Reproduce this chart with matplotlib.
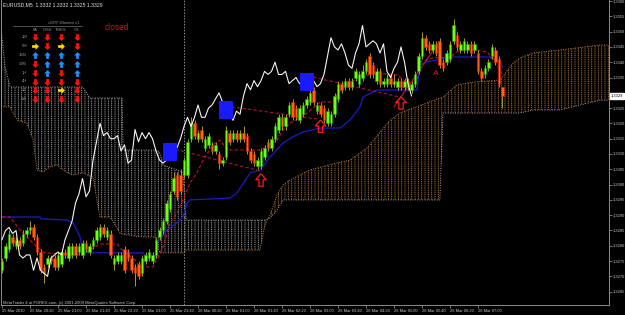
import numpy as np
import matplotlib
matplotlib.use("Agg")
import matplotlib.pyplot as plt
from matplotlib.path import Path
from matplotlib.lines import Line2D

# EURUSD M5, bars from 25 Mar 2010 19:40 to 26 Mar 07:35
opens = [1.3272, 1.3276, 1.3279, 1.3283, 1.3280, 1.3282, 1.3281, 1.3284, 1.3285, 1.3286, 1.3283, 1.3278,
         1.3273, 1.3274, 1.3276, 1.3276, 1.3273, 1.3274, 1.3278, 1.3276, 1.3277, 1.3280, 1.3278, 1.3277,
         1.3281, 1.3278, 1.3280, 1.3282, 1.3283, 1.3286, 1.3283, 1.3284, 1.3274, 1.3275, 1.3275, 1.3279,
         1.3278, 1.3276, 1.3273, 1.3274, 1.3271, 1.3275, 1.3276, 1.3275, 1.3277, 1.3283, 1.3285, 1.3288,
         1.3292, 1.3298, 1.3303, 1.3303, 1.3303, 1.3303, 1.3315, 1.3320, 1.3315, 1.3318, 1.3312, 1.3313,
         1.3313, 1.3311, 1.3310, 1.3307, 1.3309, 1.3317, 1.3315, 1.3317, 1.3315, 1.3317, 1.3316, 1.3311,
         1.3310, 1.3306, 1.3306, 1.3309, 1.3314, 1.3312, 1.3315, 1.3318, 1.3322, 1.3319, 1.3323, 1.3327,
         1.3325, 1.3321, 1.3323, 1.3326, 1.3327, 1.3331, 1.3324, 1.3326, 1.3325, 1.3320, 1.3320, 1.3323,
         1.3328, 1.3333, 1.3332, 1.3334, 1.3332, 1.3335, 1.3333, 1.3335, 1.3337, 1.3342, 1.3339, 1.3334,
         1.3337, 1.3333, 1.3333, 1.3335, 1.3333, 1.3332, 1.3334, 1.3332, 1.3334, 1.3331, 1.3333, 1.3337,
         1.3342, 1.3348, 1.3346, 1.3344, 1.3346, 1.3347, 1.3340, 1.3340, 1.3341, 1.3347, 1.3349, 1.3344,
         1.3344, 1.3344, 1.3346, 1.3344, 1.3343, 1.3337, 1.3336, 1.3338, 1.3342, 1.3344, 1.3341, 1.3332]
highs = [1.3276, 1.3281, 1.3285, 1.3284, 1.3283, 1.3283, 1.3285, 1.3286, 1.3288, 1.3287, 1.3284, 1.3279,
         1.3274, 1.3277, 1.3277, 1.3277, 1.3278, 1.3279, 1.3279, 1.3281, 1.3281, 1.3281, 1.3281, 1.3282,
         1.3282, 1.3281, 1.3283, 1.3286, 1.3287, 1.3287, 1.3286, 1.3285, 1.3277, 1.3278, 1.3278, 1.3280,
         1.3279, 1.3277, 1.3274, 1.3275, 1.3277, 1.3278, 1.3279, 1.3278, 1.3283, 1.3286, 1.3289, 1.3295,
         1.3298, 1.3304, 1.3304, 1.3305, 1.3309, 1.3315, 1.3322, 1.3321, 1.3318, 1.3319, 1.3316, 1.3317,
         1.3314, 1.3314, 1.3311, 1.3309, 1.3319, 1.3318, 1.3318, 1.3318, 1.3318, 1.3319, 1.3317, 1.3312,
         1.3311, 1.3309, 1.3312, 1.3313, 1.3315, 1.3316, 1.3320, 1.3323, 1.3323, 1.3323, 1.3327, 1.3328,
         1.3326, 1.3326, 1.3327, 1.3329, 1.3331, 1.3332, 1.3327, 1.3327, 1.3326, 1.3325, 1.3324, 1.3330,
         1.3334, 1.3334, 1.3335, 1.3335, 1.3335, 1.3338, 1.3337, 1.3339, 1.3341, 1.3343, 1.3340, 1.3338,
         1.3338, 1.3335, 1.3336, 1.3336, 1.3336, 1.3335, 1.3335, 1.3335, 1.3335, 1.3334, 1.3337, 1.3343,
         1.3350, 1.3349, 1.3347, 1.3347, 1.3347, 1.3348, 1.3341, 1.3344, 1.3347, 1.3354, 1.3350, 1.3347,
         1.3348, 1.3347, 1.3347, 1.3347, 1.3344, 1.3338, 1.3339, 1.3341, 1.3346, 1.3345, 1.3342, 1.3332]
lows = [1.3271, 1.3275, 1.3278, 1.3280, 1.3279, 1.3279, 1.3280, 1.3283, 1.3284, 1.3282, 1.3277, 1.3271,
        1.3268, 1.3273, 1.3274, 1.3272, 1.3272, 1.3273, 1.3276, 1.3275, 1.3276, 1.3276, 1.3277, 1.3276,
        1.3278, 1.3277, 1.3279, 1.3281, 1.3282, 1.3283, 1.3282, 1.3276, 1.3272, 1.3274, 1.3274, 1.3271,
        1.3275, 1.3271, 1.3267, 1.3269, 1.3270, 1.3274, 1.3275, 1.3274, 1.3276, 1.3282, 1.3284, 1.3287,
        1.3291, 1.3297, 1.3295, 1.3297, 1.3302, 1.3302, 1.3314, 1.3315, 1.3314, 1.3314, 1.3311, 1.3312,
        1.3310, 1.3310, 1.3305, 1.3306, 1.3308, 1.3313, 1.3314, 1.3314, 1.3314, 1.3314, 1.3310, 1.3307,
        1.3306, 1.3305, 1.3305, 1.3308, 1.3311, 1.3311, 1.3314, 1.3317, 1.3318, 1.3318, 1.3322, 1.3321,
        1.3321, 1.3320, 1.3322, 1.3325, 1.3326, 1.3326, 1.3323, 1.3322, 1.3320, 1.3319, 1.3319, 1.3322,
        1.3327, 1.3330, 1.3331, 1.3331, 1.3331, 1.3334, 1.3332, 1.3334, 1.3336, 1.3335, 1.3335, 1.3333,
        1.3332, 1.3332, 1.3332, 1.3332, 1.3332, 1.3331, 1.3331, 1.3331, 1.3331, 1.3330, 1.3332, 1.3336,
        1.3341, 1.3344, 1.3343, 1.3343, 1.3342, 1.3338, 1.3337, 1.3339, 1.3340, 1.3346, 1.3344, 1.3343,
        1.3343, 1.3343, 1.3342, 1.3343, 1.3336, 1.3334, 1.3335, 1.3337, 1.3341, 1.3339, 1.3332, 1.3325]
closes = [1.3275, 1.3280, 1.3284, 1.3281, 1.3282, 1.3280, 1.3284, 1.3285, 1.3286, 1.3283, 1.3278, 1.3272,
          1.3271, 1.3276, 1.3275, 1.3273, 1.3277, 1.3278, 1.3277, 1.3280, 1.3280, 1.3277, 1.3280, 1.3281,
          1.3279, 1.3280, 1.3282, 1.3285, 1.3286, 1.3284, 1.3285, 1.3277, 1.3276, 1.3277, 1.3277, 1.3272,
          1.3276, 1.3272, 1.3271, 1.3270, 1.3276, 1.3277, 1.3278, 1.3277, 1.3282, 1.3285, 1.3288, 1.3294,
          1.3297, 1.3302, 1.3296, 1.3298, 1.3308, 1.3314, 1.3320, 1.3316, 1.3317, 1.3315, 1.3315, 1.3316,
          1.3311, 1.3313, 1.3307, 1.3308, 1.3318, 1.3314, 1.3317, 1.3315, 1.3317, 1.3315, 1.3311, 1.3308,
          1.3307, 1.3308, 1.3311, 1.3312, 1.3312, 1.3315, 1.3319, 1.3322, 1.3319, 1.3322, 1.3326, 1.3322,
          1.3322, 1.3325, 1.3326, 1.3328, 1.3330, 1.3327, 1.3326, 1.3323, 1.3321, 1.3324, 1.3323, 1.3329,
          1.3333, 1.3331, 1.3334, 1.3332, 1.3334, 1.3337, 1.3336, 1.3337, 1.3340, 1.3336, 1.3336, 1.3337,
          1.3333, 1.3334, 1.3335, 1.3333, 1.3334, 1.3334, 1.3332, 1.3334, 1.3332, 1.3333, 1.3336, 1.3342,
          1.3348, 1.3345, 1.3344, 1.3346, 1.3343, 1.3339, 1.3338, 1.3343, 1.3346, 1.3352, 1.3345, 1.3346,
          1.3347, 1.3346, 1.3343, 1.3346, 1.3337, 1.3335, 1.3338, 1.3340, 1.3345, 1.3340, 1.3333, 1.3329]

# ichimoku lines (bar index, price)
tenkan_idx = [0, 2.3, 5.1, 10, 12.3, 22.3, 25.1, 28, 32.9, 34.3, 38, 39.4, 43.1, 44.6, 46, 48, 50,
              51.7, 53.7, 55.7, 57.4, 60.3, 62.3, 64.3, 73.7, 75.7, 78.6, 80.3, 82.3, 85.1, 87.1, 88.9,
              90.9, 94.6, 95.7, 97.4, 102.3, 107.1, 112.9, 115.7, 117.1, 118.6, 119.4, 123.1, 128, 130,
              132.9, 135.7, 138.6, 141.4, 143.1]
tenkan = [1.32894, 1.32894, 1.32852, 1.32796, 1.32777, 1.32770, 1.32786, 1.32806, 1.32806, 1.32786,
          1.32754, 1.32731, 1.32731, 1.32763, 1.32796, 1.32875, 1.32907, 1.32950, 1.33005, 1.33038,
          1.33080, 1.33129, 1.33146, 1.33113, 1.33113, 1.33123, 1.33146, 1.33178, 1.33201, 1.33218,
          1.33234, 1.33250, 1.33270, 1.33270, 1.33293, 1.33319, 1.33352, 1.33365, 1.33358, 1.33335,
          1.33316, 1.33342, 1.33401, 1.33414, 1.33417, 1.33434, 1.33446, 1.33440, 1.33434, 1.33391,
          1.33358]
kijun_idx = [0, 10.9, 11.1, 18.6, 20.3, 22.3, 23.1, 40.3, 41.4, 43.7, 44.3, 47.1, 50, 51.7, 52.9,
             53.7, 65.1, 67.1, 70.9, 73.7, 76.6, 80.3, 83.1, 86, 90.9, 96.6, 99.4, 102.3, 103.1,
             107.1, 118.6, 119.4, 121.4, 128, 139.4, 142.3, 143.1]
kijun = [1.32894, 1.32894, 1.32888, 1.32884, 1.32875, 1.32829, 1.32777, 1.32777, 1.32763, 1.32763,
         1.32809, 1.32852, 1.32875, 1.32894, 1.32940, 1.32950, 1.32956, 1.32972, 1.33038, 1.33048,
         1.33090, 1.33136, 1.33156, 1.33172, 1.33185, 1.33185, 1.33211, 1.33254, 1.33286, 1.33309,
         1.33309, 1.33391, 1.33401, 1.33417, 1.33417, 1.33401, 1.33384]
span_idx = [-0.3, 0.9, 2.3, 4.3, 7.1, 8.9, 10, 11.7, 13.7, 15.7, 17.4, 20, 23.1, 25.1, 26, 27.1, 28,
            30.9, 33.7, 34.3, 34.6, 39.4, 43.7, 44.3, 45.1, 46, 51.7, 52.6, 73.7, 75.1, 76.6, 78.6,
            80.3, 82.3, 88, 95.7, 99.4, 104.3, 110.9, 113.7, 125.1, 126, 130, 134.6, 142.3, 146,
            148, 151.7, 159.4, 170.9, 173.5]
span_a = [1.33254, 1.33254, 1.33254, 1.33211, 1.33201, 1.33146, 1.33048, 1.33041, 1.33058, 1.33064,
          1.33048, 1.33031, 1.33038, 1.33028, 1.33025, 1.32950, 1.32894, 1.32894, 1.32842, 1.32838,
          1.32838, 1.32829, 1.32829, 1.32803, 1.32777, 1.32777, 1.32777, 1.32786, 1.32786, 1.32868,
          1.32901, 1.32966, 1.32999, 1.33015, 1.33048, 1.33071, 1.33080, 1.33120, 1.33211, 1.33234,
          1.33283, 1.33286, 1.33326, 1.33335, 1.33342, 1.33397, 1.33414, 1.33430, 1.33440, 1.33456,
          1.33456]
span_b = [1.33512, 1.33384, 1.33319, 1.33319, 1.33319, 1.33319, 1.33319, 1.33319, 1.33319, 1.33319,
          1.33319, 1.33319, 1.33319, 1.33283, 1.33283, 1.33283, 1.33283, 1.33283, 1.33283, 1.33283,
          1.33113, 1.33113, 1.33113, 1.33113, 1.33103, 1.33064, 1.33041, 1.32884, 1.32884, 1.32884,
          1.32891, 1.32917, 1.32950, 1.32950, 1.32950, 1.32950, 1.32950, 1.32950, 1.32950, 1.32950,
          1.32950, 1.33234, 1.33234, 1.33234, 1.33234, 1.33234, 1.33234, 1.33244, 1.33244, 1.33276,
          1.33276]

# signals
square_idx = [48, 64, 87]
square_px = [1.33108, 1.33245, 1.33336]
arrow_idx = [74, 91, 114]
arrow_px = [1.33015, 1.33191, 1.33267]
trend_from = [(48, 1.33120), (64, 1.33257), (87.4, 1.33355)]
trend_to = [(74.3, 1.33043), (90.3, 1.33214), (113.7, 1.33286)]
closed_line = [(112, 1.33254), (124.5, 1.33460)]

time_ticks = [0, 8, 16, 24, 32, 40, 48, 56, 64, 72, 80, 88, 96, 104, 112, 120, 128, 136]
time_labels = ['25 Mar 2010', '25 Mar 20:20', '25 Mar 21:00', '25 Mar 21:40', '25 Mar 22:20',
               '25 Mar 23:00', '25 Mar 23:40', '26 Mar 00:20', '26 Mar 01:00', '26 Mar 01:40',
               '26 Mar 02:20', '26 Mar 03:00', '26 Mar 03:40', '26 Mar 04:20', '26 Mar 05:00',
               '26 Mar 05:40', '26 Mar 06:20', '26 Mar 07:00']
price_ticks = [1.3265, 1.3270, 1.3275, 1.3280, 1.3285, 1.3290, 1.3295, 1.3300, 1.3305, 1.3310,
               1.3315, 1.3320, 1.3325, 1.3335, 1.3340, 1.3345, 1.3350, 1.3355, 1.3360]
day_sep = 52

mon_title = 'i-MTF-Monitor v1'
mon_cols = ['FA', 'D/SS', 'TS/KS', 'CS']
mon_rows = ['1M', '5M', '15M', '30M', '1H', '4H', '1D', '1W']
mon_state = ['DDDD', 'RDRD', 'UUUU', 'DUUU', 'DUDU', 'DDDD', 'DDRD', 'DDDD']

W, H = 625, 315
small = ['Liberation Sans', 'DejaVu Sans']

fig = plt.figure(figsize=(W / 100, H / 100), dpi=100, facecolor='black')
ax = fig.add_axes([1 / W, 10 / H, 608 / W, 305 / H])
ax.set_facecolor('black')
ax.set_xlim(-0.29, 173.43)
ax.set_ylim(1.326065, 1.336033)

# kumo cloud: vertical hatch broken by black horizontal hatch -> dotted columns
sa = np.array(span_a)
sb = np.array(span_b)
plt.rcParams['hatch.linewidth'] = 0.6
ax.fill_between(span_idx, sa, sb, where=sa >= sb, interpolate=True, facecolor='none',
                edgecolor='#c8843c', hatch='|||||', linewidth=0, zorder=1)
ax.fill_between(span_idx, sa, sb, where=sa < sb, interpolate=True, facecolor='none',
                edgecolor='#b8b8b8', hatch='|||||', linewidth=0, zorder=1)
ax.fill_between(span_idx, sa, sb, facecolor='none', edgecolor='black', hatch='-' * 9,
                linewidth=0, zorder=1.1)
ax.plot(span_idx, span_a, color='#c08040', lw=0.7, ls=(0, (1, 1.5)), zorder=1.5)
ax.plot(span_idx, span_b, color='#b0a0b0', lw=0.7, ls=(0, (1, 1.5)), zorder=1.5)

ax.axvline(day_sep, color='#909090', lw=0.7, ls=(0, (1.5, 1.5)), zorder=1.5)

# tenkan / kijun
ax.plot(kijun_idx, kijun, color='#1c1cc8', lw=0.9, zorder=2)
ax.plot(tenkan_idx, tenkan, color='#c81414', lw=0.8, ls=(0, (3, 2)), zorder=2)

# trend lines
for (x0, y0), (x1, y1) in zip(trend_from, trend_to):
    ax.plot([x0, x1], [y0, y1], color='#b0103c', lw=0.8, ls=(0, (3, 2)), zorder=2)
ax.plot([p[0] for p in closed_line], [p[1] for p in closed_line], color='#c0103c', lw=0.8, zorder=2)

# candles
idx = np.arange(len(closes))
o = np.array(opens)
c = np.array(closes)
up = c >= o
ax.vlines(idx, lows, highs, color='#a89a38', lw=0.7, zorder=3)
ax.bar(idx[up], (c - o)[up], bottom=o[up], width=0.72, color='#70ff10',
       edgecolor='#20a000', linewidth=0.4, zorder=4)
ax.bar(idx[~up], (o - c)[~up], bottom=c[~up], width=0.72, color='#ff6410',
       edgecolor='#e01c00', linewidth=0.4, zorder=4)

# chikou span = close shifted 26 bars back
ax.plot(idx[:len(closes) - 26], closes[26:], color='#f4f4f4', lw=0.8, zorder=5)

# blue squares and red hollow arrows
sq = Path([(-0.38, -0.5), (0.38, -0.5), (0.38, 0.5), (-0.38, 0.5), (-0.38, -0.5)])
ax.scatter(square_idx, square_px, marker=sq, s=12.5 ** 2, color='#1a1aff', linewidths=0, zorder=6)
up_arrow = [(0, 0.5), (0.42, 0.02), (0.17, 0.02), (0.17, -0.5), (-0.17, -0.5),
            (-0.17, 0.02), (-0.42, 0.02), (0, 0.5)]
ax.scatter(arrow_idx, arrow_px, marker=Path(up_arrow), s=9 ** 2, facecolors='none',
           edgecolors='#ff1a1a', linewidths=0.9, zorder=6)
ax.text(124, 1.33362, 'A', color='#e01010', fontsize=6, ha='center', va='center',
        family=small, zorder=6)

# axes frame like the terminal
ax.spines['top'].set_visible(False)
for s in ['left', 'right', 'bottom']:
    ax.spines[s].set_color('#a0a0a0')
    ax.spines[s].set_linewidth(0.6)
ax.yaxis.tick_right()
ax.set_yticks(price_ticks)
ax.set_yticklabels(['%.4f' % p for p in price_ticks])
ax.set_xticks(time_ticks)
ax.set_xticklabels(time_labels, ha='left')
ax.tick_params(axis='both', colors='#a0a0a0', labelcolor='#c8c8c8', length=2, width=0.5,
               labelsize=2.9, pad=1)
for lab in ax.get_xticklabels() + ax.get_yticklabels():
    lab.set_family(small)

ax.annotate('1.3329', xy=(1.0, closes[-1]), xycoords=('axes fraction', 'data'),
            xytext=(1.2, 0), textcoords='offset points', ha='left', va='center',
            fontsize=2.9, family=small, color='black',
            bbox=dict(boxstyle='square,pad=0.2', fc='white', ec='white'), annotation_clip=False)

# header and footer text
fig.text(3 / W, 1 - 5 / H, 'EURUSD,M5  1.3332 1.3332 1.3325 1.3329', color='#e0e0e0',
         fontsize=3.7, family=small, ha='left', va='center')
fig.text(3 / W, 1 - 303 / H, 'MetaTrader 4 at FOREX.com, (c) 2001-2009 MetaQuotes Software Corp.',
         color='#c8c8c8', fontsize=3.0, family=small, ha='left', va='center')
fig.text(117 / W, 1 - 27 / H, 'closed', color='#d01020', fontsize=5.5, ha='center', va='center')

# MTF monitor panel, drawn on a pixel overlay
ov = fig.add_axes([0, 0, 1, 1], facecolor='none')
ov.set_xlim(0, W)
ov.set_ylim(H, 0)
ov.axis('off')
ov.text(64, 23, mon_title, color='#909090', fontsize=3.0, family=small, ha='center', va='center')
ov.add_line(Line2D([13, 82], [26, 26], color='#707070', lw=0.5))
col_x = [35, 47, 61, 77]
for cx, name in zip(col_x, mon_cols):
    ov.text(cx, 30, name, color='#909090', fontsize=2.9, family=small, ha='center', va='center')
# marker paths are in screen orientation: negative y points down
down_arrow = [(0, -0.5), (0.5, 0.0), (0.2, 0.0), (0.2, 0.5), (-0.2, 0.5), (-0.2, 0.0),
              (-0.5, 0.0), (0, -0.5)]
up_fill = [(x, -y) for x, y in down_arrow]
right_arrow = [(0.5, 0), (0.0, 0.5), (0.0, 0.2), (-0.5, 0.2), (-0.5, -0.2), (0.0, -0.2),
               (0.0, -0.5), (0.5, 0)]
glyph = {'D': (Path(down_arrow), '#ff1010'), 'U': (Path(up_fill), '#1e90ff'),
         'R': (Path(right_arrow), '#ffd700')}
for r, (name, states) in enumerate(zip(mon_rows, mon_state)):
    ry = 37 + 8.9 * r
    ov.text(27, ry, name, color='#909090', fontsize=2.9, family=small, ha='right', va='center')
    for cx, st in zip(col_x, states):
        mk, col = glyph[st]
        ov.scatter([cx], [ry], marker=mk, s=24, color=col, linewidths=0)

fig.savefig('out.png', dpi=100, facecolor='black')
